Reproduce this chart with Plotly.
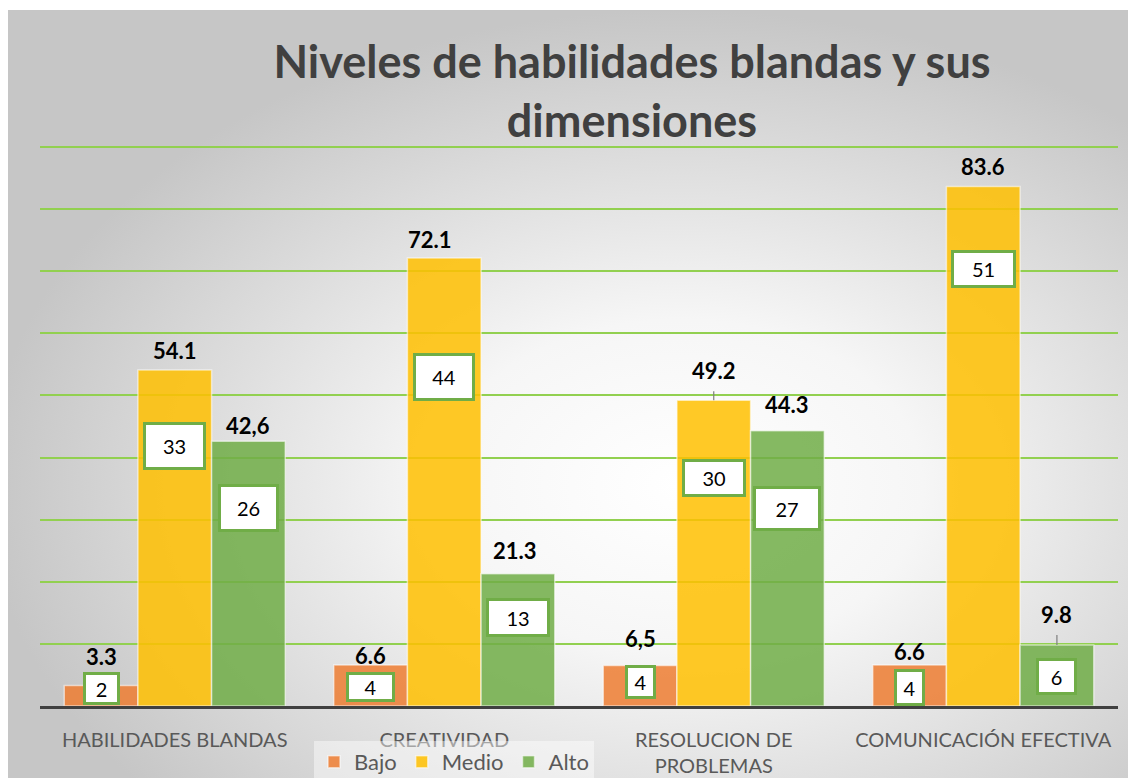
import base64
import plotly.graph_objects as go

# ---------------- data ----------------
categories = ["HABILIDADES BLANDAS", "CREATIVIDAD", "RESOLUCION DE<br>PROBLEMAS", "COMUNICACIÓN EFECTIVA"]
series_names = ["Bajo", "Medio", "Alto"]
bajo = [3.3, 6.6, 6.5, 6.6]
medio = [54.1, 72.1, 49.2, 83.6]
alto = [42.6, 21.3, 44.3, 9.8]
bajo_labels = ["3.3", "6.6", "6,5", "6.6"]
medio_labels = ["54.1", "72.1", "49.2", "83.6"]
alto_labels = ["42,6", "21.3", "44.3", "9.8"]
bajo_n = [2, 4, 4, 4]
medio_n = [33, 44, 30, 51]
alto_n = [26, 13, 27, 6]

# ---------------- styles / layout helpers ----------------
colors = ["rgba(237,125,49,0.85)", "rgba(255,192,0,0.85)", "rgba(112,173,71,0.85)"]
BARGAP = 0.18
label_shift = [[29, 10, 27, 14], [19, 19, 30, 20], [16, 23, 26, 31]]
label_xshift = [[0, 0, 0, 0], [0, -14, 0, 0], [0, -3, 0, 0]]
leader = [[False] * 4, [False, False, True, False], [False, False, False, True]]
box_frac = [[0.83, 0.46, 0.59, 0.46], [0.775, 0.734, 0.746, 0.841], [0.749, 0.671, 0.718, 0.49]]
box_size = [[(37, 33), (49, 30), (31, 34), (31, 37)],
            [(63, 48), (62, 48), (64, 38), (65, 38)],
            [(61, 48), (64, 39), (68, 45), (41, 37)]]

values = [bajo, medio, alto]
labels = [bajo_labels, medio_labels, alto_labels]
counts = [bajo_n, medio_n, alto_n]

FONT = "Lato"

fig = go.Figure()
for k in range(3):
    fig.add_trace(go.Bar(
        name=series_names[k], x=categories, y=values[k],
        marker=dict(color=colors[k], line=dict(color="rgba(255,255,255,0.55)", width=1.5)),
        hoverinfo="skip",
    ))

bar_w = (1 - BARGAP) / 3
annotations = []
for k in range(3):
    for i in range(4):
        xpos = i + (k - 1) * bar_w
        v = values[k][i]
        if leader[k][i]:
            annotations.append(dict(
                x=xpos, y=v, xref="x", yref="y", text="<b>%s</b>" % labels[k][i],
                showarrow=True, arrowhead=0, arrowwidth=1.2, arrowcolor="#7f7f7f",
                ax=0, ay=-label_shift[k][i], startstandoff=6,
                font=dict(family=FONT, size=22, color="#000000"),
            ))
        else:
            annotations.append(dict(
                x=xpos, y=v, xref="x", yref="y", text="<b>%s</b>" % labels[k][i],
                showarrow=False, yanchor="middle", yshift=label_shift[k][i],
                xshift=label_xshift[k][i],
                font=dict(family=FONT, size=22, color="#000000"),
            ))
        w, h = box_size[k][i]
        annotations.append(dict(
            x=xpos, y=v * box_frac[k][i], xref="x", yref="y", text=str(counts[k][i]),
            showarrow=False, xanchor="center", yanchor="middle",
            width=w - 6, height=h - 6, borderpad=0, borderwidth=3,
            bgcolor="#ffffff", bordercolor="#70AD47",
            font=dict(family=FONT, size=20, color="#000000"),
        ))

svg = ('<svg xmlns="http://www.w3.org/2000/svg" width="1120" height="768" viewBox="0 0 1120 768" '
       'preserveAspectRatio="none"><defs><radialGradient id="g" cx="0.6" cy="0.62" r="0.62">'
       '<stop offset="0" stop-color="#ffffff"/><stop offset="0.35" stop-color="#f6f6f6"/>'
       '<stop offset="1" stop-color="#c6c6c6"/></radialGradient></defs>'
       '<rect width="1120" height="768" fill="url(#g)"/></svg>')
src = "data:image/svg+xml;base64," + base64.b64encode(svg.encode()).decode()

W, H = 1128, 778
L, R, T, B = 40, 10, 145, 72
pw, ph = W - L - R, H - T - B
YMAX = 90.3

fig.update_layout(
    width=W, height=H,
    margin=dict(l=L, r=R, t=T, b=B, pad=0, autoexpand=False),
    paper_bgcolor="#ffffff", plot_bgcolor="rgba(0,0,0,0)",
    barmode="group", bargap=BARGAP, bargroupgap=0,
    images=[dict(source=src, xref="paper", yref="paper",
                 x=(8 - L) / pw, y=(H - B - 10) / ph, sizex=(W - 8) / pw, sizey=(H - 10) / ph,
                 xanchor="left", yanchor="top", sizing="stretch", layer="below")],
    title=dict(text="<b>Niveles de habilidades blandas y sus<br>dimensiones</b>",
               x=(632 - L) / pw, xref="paper", xanchor="center",
               y=1 - 78 / H, yref="container", yanchor="middle",
               font=dict(family=FONT, size=45, color="#404040")),
    xaxis=dict(showgrid=False, showline=True, linecolor="#404040", linewidth=3,
               ticks="", ticklabelstandoff=14, automargin=False,
               tickfont=dict(family=FONT, size=20, color="#595959"), fixedrange=True),
    yaxis=dict(range=[0, YMAX], dtick=10, showgrid=True, gridcolor="#92D050", gridwidth=2,
               showticklabels=False, zeroline=False, fixedrange=True, automargin=False),
    legend=dict(orientation="h", x=(314 - L) / pw, y=(H - 741) / H, yref="container",
                xanchor="left", yanchor="top", bgcolor="rgba(255,255,255,0.45)",
                font=dict(family=FONT, size=22, color="#595959"), traceorder="normal",
                itemwidth=30),
    annotations=annotations,
    showlegend=True,
)

fig.write_html("out.html", config={"displayModeBar": False},
               post_script="document.body.style.margin='0';document.documentElement.style.overflow='hidden';")
